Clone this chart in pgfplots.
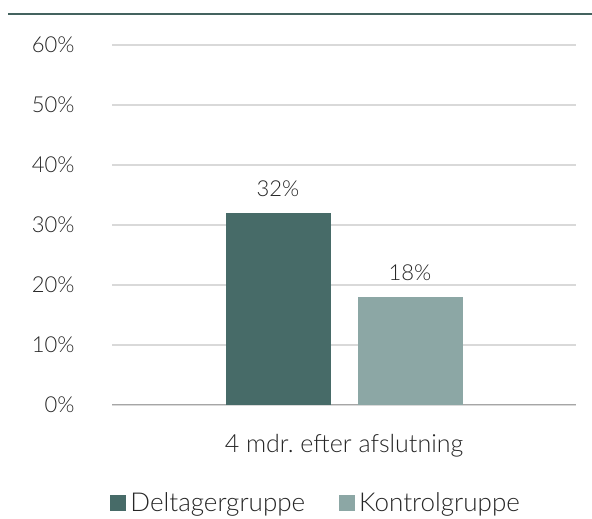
\documentclass[border=0pt]{standalone}
\usepackage{fontspec}
\setmainfont{Lato}[UprightFont=* Light]
\usepackage{pgfplots}
\pgfplotsset{compat=1.18}
\definecolor{dark}{HTML}{476B68}
\definecolor{light}{HTML}{8CA7A5}
\definecolor{topline}{HTML}{44635F}
\definecolor{gridc}{HTML}{D9D9D9}
\definecolor{basec}{HTML}{A6A6A6}
\definecolor{txt}{HTML}{262626}
\newcommand{\f}{\fontsize{22}{26}\selectfont}
\newcommand{\fb}{\fontsize{25}{30}\selectfont}
\newcommand{\fl}{\fontsize{26}{30}\selectfont}
\begin{document}
\frenchspacing
\begin{tikzpicture}[x=1pt,y=1pt]
\useasboundingbox (0,0) rectangle (592,519);
\draw[topline, line width=2.5pt] (8,505) -- (592,505);
\begin{axis}[
  at={(112pt,114pt)}, anchor=south west,
  scale only axis, width=464pt, height=360pt,
  ybar=27pt, bar width=105pt,
  xmin=-1, xmax=1, ymin=0, ymax=60,
  ytick={0,10,...,60},
  yticklabel={\pgfmathprintnumber{\tick}\%},
  /pgf/number format/assume math mode=true,
  xtick={0}, xticklabels={4 mdr.\ efter afslutning},
  major tick length=0pt,
  ymajorgrids, grid style={color=gridc, line width=1.2pt},
  axis x line*=bottom, axis y line*=left,
  y axis line style={draw=none},
  x axis line style={color=basec, line width=1pt},
  tick label style={text=txt},
  yticklabel style={font=\f, xshift=-34pt},
  xticklabel style={font=\fb, yshift=-26pt},
  nodes near coords={\pgfmathprintnumber{\pgfplotspointmeta}\%},
  nodes near coords style={font=\f, text=txt, anchor=south, yshift=13pt},
  legend style={at={(0.44,-0.272)}, anchor=center, draw=none, font=\fl, text=txt,
    legend columns=2, /tikz/every even column/.append style={column sep=32pt},
    /tikz/every odd column/.append style={column sep=2pt}},
  legend image code/.code={\fill[#1] (0pt,-8pt) rectangle (16pt,8pt);},
]
\addplot[fill=dark, draw=none] coordinates {(0,32)};
\addlegendentry{Deltagergruppe}
\addplot[fill=light, draw=none] coordinates {(0,18)};
\addlegendentry{Kontrolgruppe}
\end{axis}
\end{tikzpicture}
\end{document}
